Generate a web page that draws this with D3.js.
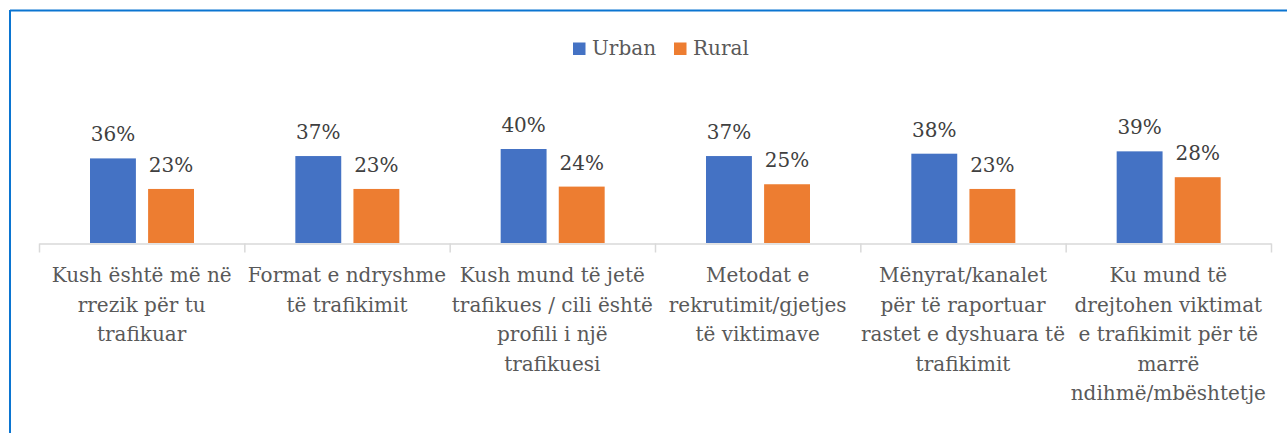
<!DOCTYPE html>
<html>
<head>
<meta charset="utf-8">
<script src="https://cdn.jsdelivr.net/npm/d3@7"></script>
<style>
  body { margin: 0; background: #fff; }
  svg { display: block; font-family: "DejaVu Serif", serif; }
</style>
</head>
<body>
<div id="chart"></div>
<script>
// Data
const categories = [
    ["Kush është më në", "rrezik për tu", "trafikuar"],
    ["Format e ndryshme", "të trafikimit"],
    ["Kush mund të jetë", "trafikues / cili është", "profili i një", "trafikuesi"],
    ["Metodat e", "rekrutimit/gjetjes", "të viktimave"],
    ["Mënyrat/kanalet", "për të raportuar", "rastet e dyshuara të", "trafikimit"],
    ["Ku mund të", "drejtohen viktimat", "e trafikimit për të", "marrë", "ndihmë/mbështetje"]
];
const seriesNames = ["Urban", "Rural"];
const urban = [0.36, 0.37, 0.40, 0.37, 0.38, 0.39];
const rural = [0.23, 0.23, 0.24, 0.25, 0.23, 0.28];
const colors = ["#4472C4", "#ED7D31"];

const W = 1287, H = 433;
const plot = { left: 39, right: 1271, base: 243 };

const svg = d3.select("#chart").append("svg")
    .attr("width", W)
    .attr("height", H);

// figure frame
svg.append("line")
    .attr("x1", 10).attr("x2", W).attr("y1", 10.5).attr("y2", 10.5)
    .attr("stroke", "#0b75d1").attr("stroke-width", 2);
svg.append("line")
    .attr("x1", 10).attr("x2", 10).attr("y1", 10).attr("y2", H)
    .attr("stroke", "#0b75d1").attr("stroke-width", 2);

// scales
const idx = categories.map((d, i) => i);
const x = d3.scaleBand().domain(idx).range([plot.left, plot.right]).padding(0);
// position of the two bars inside one category band
const xs = d3.scaleBand().domain(seriesNames).range([51, 155]).paddingInner(0.21);
const y = d3.scaleLinear().domain([0, 0.4]).range([plot.base, plot.base - 94]);

const rows = idx.map(i => ({ i, vals: [urban[i], rural[i]] }));

// bars
const groups = svg.selectAll(".grp")
    .data(rows)
    .enter().append("g")
    .attr("class", "grp")
    .attr("transform", d => `translate(${x(d.i)},0)`);

groups.selectAll("rect")
    .data(d => d.vals.map((v, k) => ({ v, k })))
    .enter().append("rect")
    .attr("x", d => xs(seriesNames[d.k]))
    .attr("y", d => y(d.v))
    .attr("width", xs.bandwidth())
    .attr("height", d => plot.base - y(d.v))
    .attr("fill", d => colors[d.k]);

// value labels
groups.selectAll(".val")
    .data(d => d.vals.map((v, k) => ({ v, k })))
    .enter().append("text")
    .attr("class", "val")
    .attr("x", d => xs(seriesNames[d.k]) + xs.bandwidth() / 2)
    .attr("y", d => y(d.v) - 17)
    .attr("text-anchor", "middle")
    .attr("font-size", "20px")
    .attr("fill", "#404040")
    .text(d => d3.format(".0%")(d.v));

// axis with ticks at the category boundaries
const xb = d3.scaleLinear().domain([0, categories.length]).range([plot.left, plot.right]);
const axis = svg.append("g")
    .attr("transform", `translate(0,${plot.base + 0.5})`)
    .call(d3.axisBottom(xb).ticks(categories.length).tickFormat("").tickSize(9).tickSizeOuter(0));
axis.selectAll("path, line").attr("stroke", "#d9d9d9").attr("stroke-width", 1.5);

// category labels
const lab = svg.selectAll(".cat")
    .data(categories)
    .enter().append("text")
    .attr("class", "cat")
    .attr("text-anchor", "middle")
    .attr("font-size", "20px")
    .attr("fill", "#595959");
lab.selectAll("tspan")
    .data((d, i) => d.map(t => ({ t, i })))
    .enter().append("tspan")
    .attr("x", d => x(d.i) + x.bandwidth() / 2)
    .attr("y", (d, j) => 282 + j * 29.5)
    .text(d => d.t);

// legend
const legend = svg.append("g");
const legX = [573, 674];
seriesNames.forEach((s, k) => {
    legend.append("rect")
        .attr("x", legX[k]).attr("y", 42.5)
        .attr("width", 12.5).attr("height", 12.5)
        .attr("fill", colors[k]);
    legend.append("text")
        .attr("x", legX[k] + 19).attr("y", 55)
        .attr("font-size", "20px")
        .attr("fill", "#595959")
        .text(s);
});
</script>
</body>
</html>
